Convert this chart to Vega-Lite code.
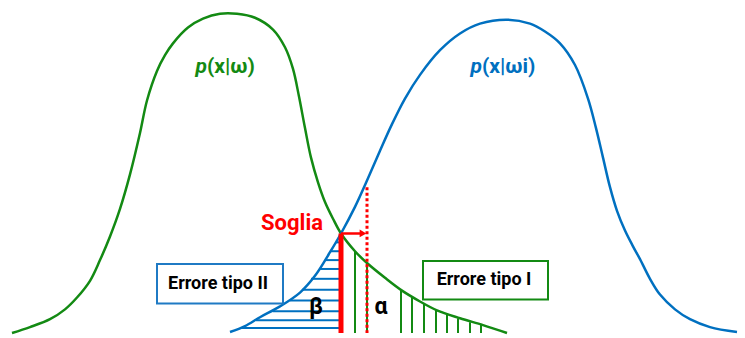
{
  "$schema": "https://vega.github.io/schema/vega-lite/v6.json",
  "width": 745,
  "height": 338,
  "autosize": {"type": "fit", "contains": "padding"},
  "padding": 0,
  "background": "white",
  "config": {"view": {"stroke": null}},
  "datasets": {
    "green_curve": [
      {"x": 12, "y": 338}, {"x": 30, "y": 332}, {"x": 50, "y": 324}, {"x": 65, "y": 314},
      {"x": 77, "y": 302}, {"x": 90, "y": 285}, {"x": 100, "y": 264}, {"x": 110, "y": 240},
      {"x": 120, "y": 212}, {"x": 130, "y": 177}, {"x": 140, "y": 135}, {"x": 147, "y": 102},
      {"x": 157, "y": 72}, {"x": 165, "y": 56}, {"x": 173, "y": 44}, {"x": 188, "y": 28},
      {"x": 203, "y": 19}, {"x": 220, "y": 14}, {"x": 237, "y": 14}, {"x": 255, "y": 18},
      {"x": 273, "y": 30}, {"x": 285, "y": 48}, {"x": 293, "y": 70}, {"x": 299, "y": 98},
      {"x": 305, "y": 130}, {"x": 311, "y": 160}, {"x": 318, "y": 185}, {"x": 325, "y": 205},
      {"x": 333, "y": 222}, {"x": 341, "y": 237}, {"x": 355, "y": 255}, {"x": 367, "y": 267},
      {"x": 385, "y": 282}, {"x": 402, "y": 295}, {"x": 420, "y": 306}, {"x": 437, "y": 315},
      {"x": 460, "y": 323}, {"x": 483, "y": 330}, {"x": 507, "y": 338}
    ],
    "blue_curve": [
      {"x": 230, "y": 337}, {"x": 245, "y": 331}, {"x": 260, "y": 322}, {"x": 280, "y": 311},
      {"x": 300, "y": 297}, {"x": 315, "y": 280}, {"x": 330, "y": 256}, {"x": 341, "y": 237},
      {"x": 355, "y": 210}, {"x": 368, "y": 181}, {"x": 380, "y": 153}, {"x": 392, "y": 126},
      {"x": 405, "y": 100}, {"x": 420, "y": 76}, {"x": 440, "y": 51}, {"x": 460, "y": 34},
      {"x": 480, "y": 24}, {"x": 507, "y": 20}, {"x": 530, "y": 24}, {"x": 545, "y": 32},
      {"x": 560, "y": 44}, {"x": 575, "y": 66}, {"x": 588, "y": 100}, {"x": 596, "y": 130},
      {"x": 603, "y": 160}, {"x": 610, "y": 190}, {"x": 617, "y": 214}, {"x": 625, "y": 234},
      {"x": 633, "y": 250}, {"x": 640, "y": 263}, {"x": 650, "y": 283}, {"x": 660, "y": 299},
      {"x": 675, "y": 314}, {"x": 690, "y": 324}, {"x": 710, "y": 332}, {"x": 737, "y": 337}
    ],
    "beta_hatch": [
      {"x": 336, "x_end": 341, "y": 246}, {"x": 330, "x_end": 341, "y": 255},
      {"x": 325, "x_end": 341, "y": 264}, {"x": 319, "x_end": 341, "y": 273},
      {"x": 311, "x_end": 341, "y": 283}, {"x": 302, "x_end": 341, "y": 294},
      {"x": 290, "x_end": 341, "y": 305}, {"x": 273, "x_end": 341, "y": 316},
      {"x": 256, "x_end": 341, "y": 325}, {"x": 240, "x_end": 341, "y": 333}
    ],
    "alpha_hatch": [
      {"x": 355, "y": 255, "y_end": 338}, {"x": 367, "y": 267, "y_end": 338},
      {"x": 401, "y": 294, "y_end": 338}, {"x": 412, "y": 301, "y_end": 338},
      {"x": 424, "y": 308, "y_end": 338}, {"x": 436, "y": 314, "y_end": 338},
      {"x": 447, "y": 319, "y_end": 338}, {"x": 458, "y": 323, "y_end": 338},
      {"x": 470, "y": 327, "y_end": 338}, {"x": 481, "y": 330, "y_end": 338}
    ]
  },
  "encoding": {
    "x": {"field": "x", "type": "quantitative", "axis": null,
          "scale": {"domain": [0, 745], "nice": false, "zero": false}},
    "y": {"field": "y", "type": "quantitative", "axis": null,
          "scale": {"domain": [0, 338], "nice": false, "zero": false, "reverse": true}}
  },
  "layer": [
    {
      "data": {"name": "beta_hatch"},
      "mark": {"type": "rule", "color": "#0070C0", "strokeWidth": 2},
      "encoding": {"x2": {"field": "x_end"}}
    },
    {
      "data": {"name": "alpha_hatch"},
      "mark": {"type": "rule", "color": "#138A13", "strokeWidth": 2},
      "encoding": {"y2": {"field": "y_end"}}
    },
    {
      "data": {"name": "green_curve"},
      "mark": {"type": "line", "color": "#138A13", "strokeWidth": 2.5, "interpolate": "catmull-rom"},
      "encoding": {}
    },
    {
      "data": {"name": "blue_curve"},
      "mark": {"type": "line", "color": "#0070C0", "strokeWidth": 2.5, "interpolate": "catmull-rom"},
      "encoding": {}
    },
    {
      "data": {"values": [{"x": 367, "y": 190, "y_end": 338}]},
      "mark": {"type": "rule", "color": "#FF0000", "strokeWidth": 3, "strokeDash": [3, 2.5]},
      "encoding": {"y2": {"field": "y_end"}}
    },
    {
      "data": {"values": [{"x": 341, "y": 237, "y_end": 338}]},
      "mark": {"type": "rule", "color": "#FF0000", "strokeWidth": 5},
      "encoding": {"y2": {"field": "y_end"}}
    },
    {
      "data": {"values": [{"x": 341, "x_end": 361, "y": 237}]},
      "mark": {"type": "rule", "color": "#FF0000", "strokeWidth": 2.5},
      "encoding": {"x2": {"field": "x_end"}}
    },
    {
      "data": {"values": [{"x": 363, "y": 237}]},
      "mark": {"type": "point", "shape": "triangle-right", "filled": true, "color": "#FF0000", "size": 60, "opacity": 1},
      "encoding": {}
    },
    {
      "data": {"values": [{"x": 157, "x_end": 283, "y": 268, "y_end": 308}]},
      "mark": {"type": "rect", "fill": "white", "stroke": "#1F7AC4", "strokeWidth": 2},
      "encoding": {"x2": {"field": "x_end"}, "y2": {"field": "y_end"}}
    },
    {
      "data": {"values": [{"x": 423, "x_end": 548, "y": 265, "y_end": 304}]},
      "mark": {"type": "rect", "fill": "white", "stroke": "#138A13", "strokeWidth": 2},
      "encoding": {"x2": {"field": "x_end"}, "y2": {"field": "y_end"}}
    },
    {
      "data": {"values": [{"x": 218, "y": 288, "label": "Errore tipo II"}, {"x": 484, "y": 284, "label": "Errore tipo I"}]},
      "mark": {"type": "text", "font": "Roboto", "fontWeight": "bold", "fontSize": 18, "color": "black", "align": "center", "baseline": "middle"},
      "encoding": {"text": {"field": "label"}}
    },
    {
      "data": {"values": [{"x": 316, "y": 312, "label": "β"}, {"x": 381, "y": 312, "label": "α"}]},
      "mark": {"type": "text", "font": "Roboto", "fontWeight": "bold", "fontSize": 23, "color": "black", "align": "center", "baseline": "middle"},
      "encoding": {"text": {"field": "label"}}
    },
    {
      "data": {"values": [{"x": 292, "y": 226, "label": "Soglia"}]},
      "mark": {"type": "text", "font": "Roboto", "fontWeight": "bold", "fontSize": 22, "color": "#FF0000", "align": "center", "baseline": "middle"},
      "encoding": {"text": {"field": "label"}}
    },
    {
      "data": {"values": [{"x": 207, "y": 68, "label": "p"}]},
      "mark": {"type": "text", "font": "Roboto", "fontWeight": "bold", "fontStyle": "italic", "fontSize": 21, "color": "#138A13", "align": "right", "baseline": "middle"},
      "encoding": {"text": {"field": "label"}}
    },
    {
      "data": {"values": [{"x": 207, "y": 68, "label": "(x|ω)"}]},
      "mark": {"type": "text", "font": "Roboto", "fontWeight": "bold", "fontSize": 21, "color": "#138A13", "align": "left", "baseline": "middle"},
      "encoding": {"text": {"field": "label"}}
    },
    {
      "data": {"values": [{"x": 482, "y": 68, "label": "p"}]},
      "mark": {"type": "text", "font": "Roboto", "fontWeight": "bold", "fontStyle": "italic", "fontSize": 21, "color": "#0070C0", "align": "right", "baseline": "middle"},
      "encoding": {"text": {"field": "label"}}
    },
    {
      "data": {"values": [{"x": 482, "y": 68, "label": "(x|ωi)"}]},
      "mark": {"type": "text", "font": "Roboto", "fontWeight": "bold", "fontSize": 21, "color": "#0070C0", "align": "left", "baseline": "middle"},
      "encoding": {"text": {"field": "label"}}
    }
  ]
}
